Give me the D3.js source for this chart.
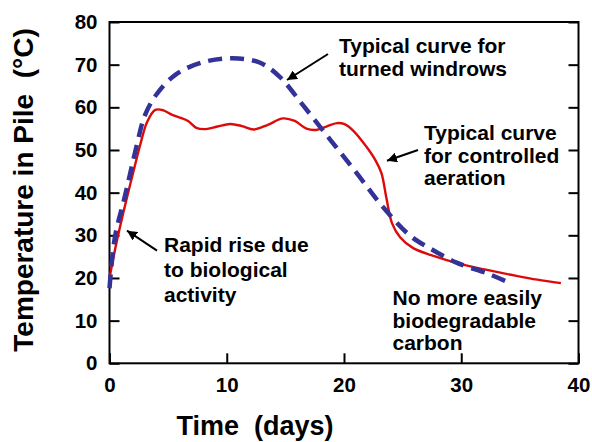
<!DOCTYPE html>
<html>
<head>
<meta charset="utf-8">
<script src="https://cdn.jsdelivr.net/npm/d3@7"></script>
<style>
  body { margin: 0; background: #fff; }
  svg text { font-family: "Liberation Sans", Arial, sans-serif; font-weight: bold; fill: #000; white-space: pre; }
</style>
</head>
<body>
<svg id="chart" width="592" height="442"></svg>
<script>
// controlled aeration (red, solid)
var aerDays = [0, 0.5, 0.9, 1.5, 2.0, 2.6, 3.2, 3.9, 4.6, 5.3, 6.0, 6.7, 7.4, 8.2, 9.2, 10.3, 11.3, 12.3, 13.5, 14.8, 15.8, 16.8, 17.6, 18.5, 19.4, 20.0, 20.8, 21.9, 22.7, 23.2, 23.6, 24.1, 24.8, 25.9, 27.5, 29.9, 32.0, 34.7, 36.5, 38.5];
var aerTemp = [20, 27, 32, 39, 44.5, 51, 56.5, 59.4, 59.3, 58.3, 57.6, 56.8, 55.2, 54.9, 55.5, 56.1, 55.6, 54.8, 55.9, 57.4, 56.8, 55, 54.7, 55.5, 56.3, 56.1, 54.5, 50.8, 47.5, 44.5, 39, 32.8, 29.5, 27, 25.3, 23.3, 22, 20.5, 19.6, 18.8];
// turned windrows (blue, dashed)
var winDays = [0, 0.47, 1.3, 2.3, 3.0, 4.0, 5.7, 8.0, 10.5, 12.8, 14.5, 16.5, 18.8, 21.1, 23.3, 25.6, 27.3, 29.6, 32.2, 34.0];
var winTemp = [17.6, 29.7, 39, 50.8, 58, 63, 67.8, 70.6, 71.5, 70.5, 67.2, 60.5, 52.5, 44.5, 36.7, 30, 27, 23.6, 21.1, 19];

var xTicks = [0, 10, 20, 30, 40];
var yTicks = [0, 10, 20, 30, 40, 50, 60, 70, 80];

var noteWindrows = ["Typical curve for", "turned windrows"];
var noteAeration = ["Typical curve", "for controlled", "aeration"];
var noteRapid = ["Rapid rise due", "to biological", "activity"];
var noteCarbon = ["No more easily", "biodegradable", "carbon"];

var svg = d3.select("#chart");
var plotL = 109.5, plotR = 578.5, plotT = 22, plotB = 363.3;

var xScale = d3.scaleLinear().domain([0, 40]).range([plotL, plotR]);
var yScale = d3.scaleLinear().domain([0, 80]).range([plotB, plotT]);

svg.append("defs").append("marker")
    .attr("id", "head")
    .attr("viewBox", "0 0 10 10")
    .attr("refX", 10).attr("refY", 5)
    .attr("markerWidth", 5).attr("markerHeight", 5)
    .attr("markerUnits", "strokeWidth")
    .attr("orient", "auto")
  .append("path")
    .attr("d", "M0,0 L10,5 L0,10 z")
    .attr("fill", "#000");

/* axes */
var yAxis = svg.append("g")
    .attr("transform", "translate(" + plotL + ",0)")
    .call(d3.axisLeft(yScale).tickValues(yTicks).tickSizeInner(-10).tickSizeOuter(0).tickPadding(12));
var yAxisR = svg.append("g")
    .attr("transform", "translate(" + plotR + ",0)")
    .call(d3.axisRight(yScale).tickValues(yTicks).tickSizeInner(-10).tickSizeOuter(0).tickFormat(""));
var xAxis = svg.append("g")
    .attr("transform", "translate(0," + plotB + ")")
    .call(d3.axisBottom(xScale).tickValues(xTicks).tickSizeInner(-10).tickSizeOuter(0).tickPadding(14));

[yAxis, yAxisR, xAxis].forEach(function(g) {
  g.attr("font-family", null).attr("font-size", null);
  g.select(".domain").remove();
  g.selectAll(".tick line").attr("stroke", "#000").attr("stroke-width", 2);
  g.selectAll(".tick text").attr("font-size", 20.5);
});

svg.append("rect")
    .attr("x", plotL).attr("y", plotT)
    .attr("width", plotR - plotL).attr("height", plotB - plotT)
    .attr("fill", "none").attr("stroke", "#000").attr("stroke-width", 2);

/* curves */
var line = d3.line()
    .x(function(d) { return xScale(d[0]); })
    .y(function(d) { return yScale(d[1]); })
    .curve(d3.curveCatmullRom.alpha(0.5));

svg.append("path")
    .datum(d3.zip(aerDays, aerTemp))
    .attr("d", line)
    .attr("fill", "none").attr("stroke", "#dd0a0a").attr("stroke-width", 2.4);

svg.append("path")
    .datum(d3.zip(winDays, winTemp))
    .attr("d", line)
    .attr("fill", "none").attr("stroke", "#323299").attr("stroke-width", 4.5)
    .attr("stroke-dasharray", "14,8");

/* notes */
function note(lines, x, y, gap) {
  var t = svg.append("text").attr("font-size", 21);
  t.selectAll("tspan").data(lines).enter().append("tspan")
      .attr("x", x).attr("y", function(d, i) { return y + i * gap; })
      .text(function(d) { return d; });
}
function arrow(x1, y1, x2, y2) {
  svg.append("line")
      .attr("x1", x1).attr("y1", y1).attr("x2", x2).attr("y2", y2)
      .attr("stroke", "#000").attr("stroke-width", 2)
      .attr("marker-end", "url(#head)");
}

note(noteWindrows, 339, 53, 22.5);
note(noteAeration, 424, 140, 22.5);
note(noteRapid, 164, 251.5, 25);
note(noteCarbon, 392.5, 305, 22.5);

arrow(328, 54, 287, 80);
arrow(418, 150, 387, 160.7);
arrow(157, 250.7, 127, 230.7);

/* axis titles */
svg.append("text")
    .attr("x", 255).attr("y", 435)
    .attr("text-anchor", "middle").attr("font-size", 27)
    .text("Time  (days)");
svg.append("text")
    .attr("transform", "translate(33,190) rotate(-90)")
    .attr("text-anchor", "middle").attr("font-size", 28)
    .text("Temperature in Pile  (°C)");
</script>
</body>
</html>
